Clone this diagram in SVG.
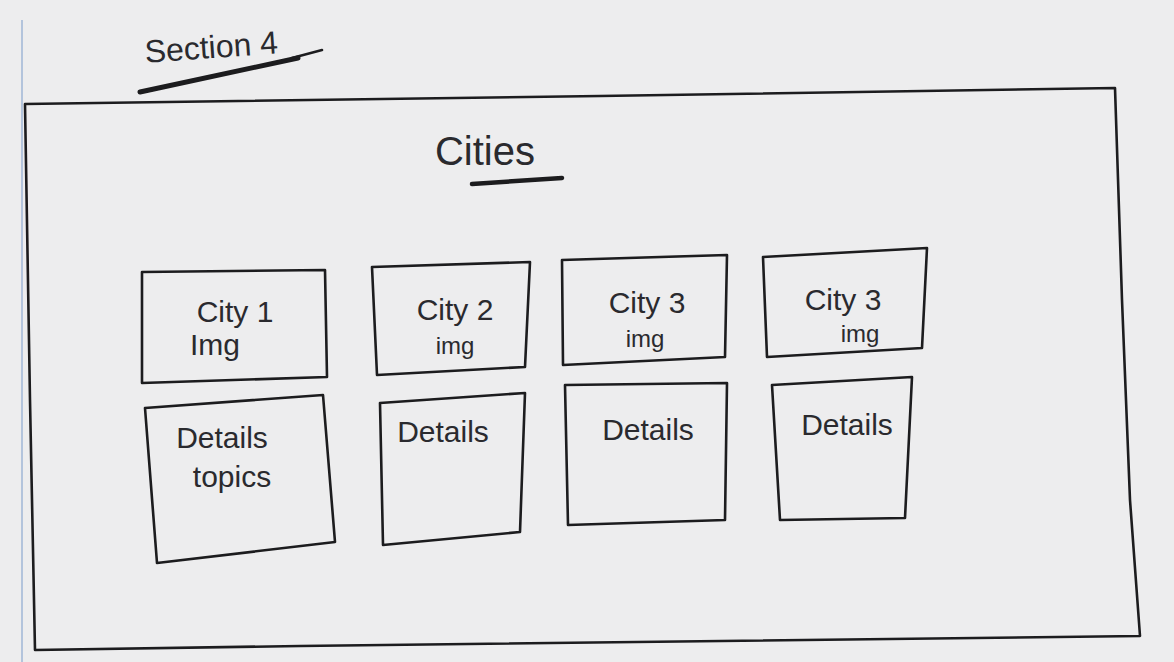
<svg xmlns="http://www.w3.org/2000/svg" width="1174" height="662" viewBox="0 0 1174 662">
<style>
.ink{fill:none;stroke:#1c1c1e;stroke-width:2.6;stroke-linejoin:round;stroke-linecap:round}
.lbl{font-family:"Liberation Sans","DejaVu Sans",sans-serif;fill:#2a2a2e;font-size:30px;text-anchor:middle}
.sm{font-size:24px}
</style>
<rect width="1174" height="662" fill="#ededee"/>
<line x1="22" y1="20" x2="22" y2="662" stroke="#9fb6d6" stroke-width="1.5"/>
<g id="title">
<text class="lbl" x="212" y="58" style="font-size:32px" transform="rotate(-4 212 58)">Section 4</text>
<path d="M140 92 Q222 74 298 58" stroke="#1c1c1e" stroke-width="5" fill="none" stroke-linecap="round"/>
<path d="M292 58 L322 50" class="ink" stroke-width="1.2"/>
</g>
<g id="frame">
<path class="ink" d="M25 104 Q300 100 600 96 Q900 92 1115 88 L1122 300 L1130 500 L1140 636 Q700 642 300 646 L35 650 L30 400 Z"/>
</g>
<g id="heading">
<text class="lbl" x="485" y="165" style="font-size:40px">Cities</text>
<path d="M472 184 L562 178" stroke="#1c1c1e" stroke-width="4.5" fill="none" stroke-linecap="round"/>
</g>
<g id="city1">
<path class="ink" d="M142 272 L325 270 L327 377 L142 383 Z"/>
<text class="lbl" x="235" y="322">City 1</text>
<text class="lbl" x="215" y="355">Img</text>
</g>
<g id="city2">
<path class="ink" d="M372 267 L530 262 L525 367 L377 375 Z"/>
<text class="lbl" x="455" y="320">City 2</text>
<text class="lbl sm" x="455" y="354">img</text>
</g>
<g id="city3">
<path class="ink" d="M562 260 L727 255 L725 357 L563 365 Z"/>
<text class="lbl" x="647" y="313">City 3</text>
<text class="lbl sm" x="645" y="347">img</text>
</g>
<g id="city4">
<path class="ink" d="M763 257 L927 248 L922 348 L767 357 Z"/>
<text class="lbl" x="843" y="310">City 3</text>
<text class="lbl sm" x="860" y="342">img</text>
</g>
<g id="details1">
<path class="ink" d="M145 408 L323 395 L335 542 L157 563 Z"/>
<text class="lbl" x="222" y="448">Details</text>
<text class="lbl" x="232" y="487">topics</text>
</g>
<g id="details2">
<path class="ink" d="M380 403 L525 393 L520 532 L383 545 Z"/>
<text class="lbl" x="443" y="442">Details</text>
</g>
<g id="details3">
<path class="ink" d="M565 385 L727 383 L725 520 L568 525 Z"/>
<text class="lbl" x="648" y="440">Details</text>
</g>
<g id="details4">
<path class="ink" d="M772 385 L912 377 L905 518 L780 520 Z"/>
<text class="lbl" x="847" y="435">Details</text>
</g>
<g id="connectors"/>
</svg>
